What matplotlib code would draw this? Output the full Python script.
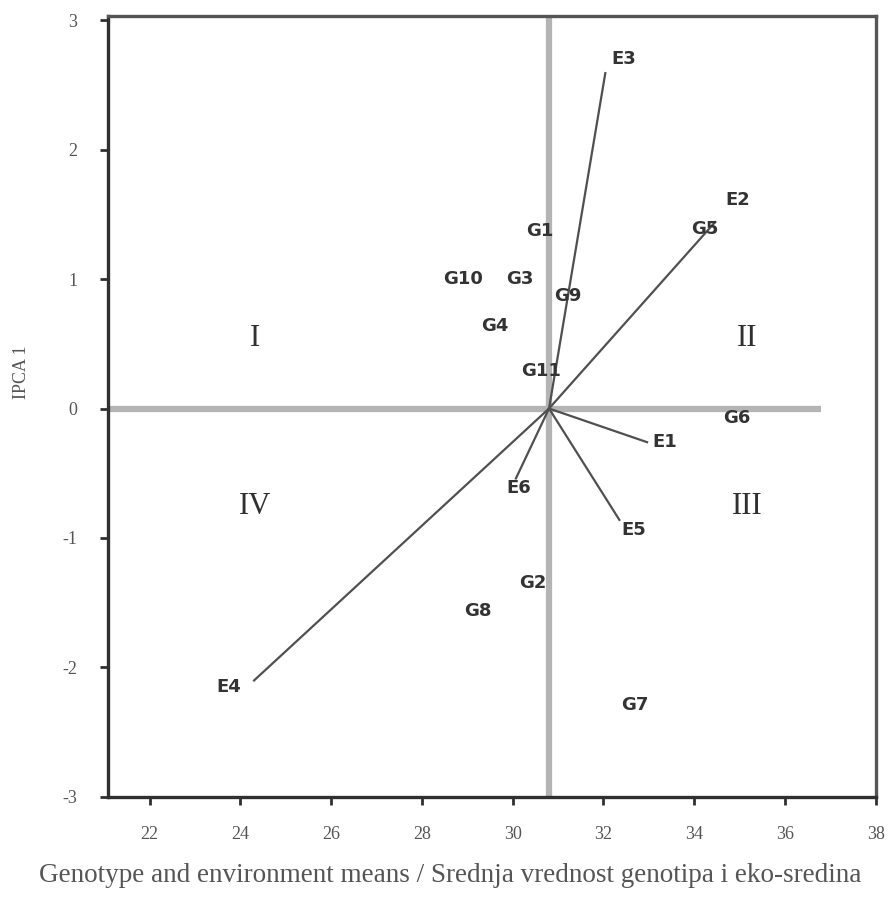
import matplotlib
matplotlib.use("Agg")
import matplotlib.pyplot as plt

# Grand mean (origin of environment vectors)
grand_mean_x = 30.8
grand_mean_y = 0.0

# Environments (vector end points)
env_names = ["E1", "E2", "E3", "E4", "E5", "E6"]
env_x = [32.96, 34.46, 32.04, 24.30, 32.35, 30.07]
env_y = [-0.26, 1.44, 2.59, -2.10, -0.86, -0.54]

# Genotypes
gen_names = ["G1", "G2", "G3", "G4", "G5", "G6", "G7", "G8", "G9", "G10", "G11"]
gen_x = [30.60, 30.44, 30.15, 29.61, 34.24, 34.94, 32.68, 29.24, 31.21, 28.91, 30.62]
gen_y = [1.37, -1.35, 1.00, 0.64, 1.39, -0.07, -2.29, -1.56, 0.87, 1.00, 0.29]

# Quadrant labels
quad_names = ["I", "II", "III", "IV"]
quad_x = [24.32, 35.16, 35.16, 24.32]
quad_y = [0.54, 0.54, -0.76, -0.76]

x_ticks = [22, 24, 26, 28, 30, 32, 34, 36, 38]
y_ticks = [-3, -2, -1, 0, 1, 2, 3]

xlabel = "Genotype and environment means / Srednja vrednost genotipa i eko-sredina"
ylabel = "IPCA 1"

# label offsets (points) for environment labels
env_offsets = {"E1": (13, 0), "E2": (16, 16), "E3": (13, 10), "E4": (-18, -5),
               "E5": (10, -7), "E6": (2, -7)}

fig = plt.figure(figsize=(8.9, 8.97), dpi=100)
ax = fig.add_axes([0.1213, 0.1115, 0.8627, 0.8705])
ax.set_xlim(21.08, 38.0)
ax.set_ylim(-3.0, 3.03)

grey = "#b4b4b4"
ax.axvline(grand_mean_x, color=grey, lw=4.5, zorder=1)
ax.plot([21.08, 36.8], [grand_mean_y, grand_mean_y], color=grey, lw=4.5, zorder=1,
        solid_capstyle="butt")

for name, ex, ey in zip(env_names, env_x, env_y):
    ax.plot([grand_mean_x, ex], [grand_mean_y, ey], color="#505050", lw=1.6, zorder=2)
    dx, dy = env_offsets[name]
    ax.annotate(name, (ex, ey), xytext=(dx, dy), textcoords="offset points",
                ha="center", va="center", fontsize=13, fontweight="bold",
                family="DejaVu Sans", color="#333333", zorder=3)

for name, gx, gy in zip(gen_names, gen_x, gen_y):
    ax.text(gx, gy, name, ha="center", va="center", fontsize=13, fontweight="bold",
            family="DejaVu Sans", color="#333333", zorder=3)

for name, qx, qy in zip(quad_names, quad_x, quad_y):
    ax.text(qx, qy, name, ha="center", va="center", fontsize=22,
            family="Liberation Serif", color="#303030", zorder=3)

ax.set_xticks(x_ticks)
ax.set_yticks(y_ticks)
ax.set_xticklabels([str(t) for t in x_ticks], family="Liberation Serif", fontsize=13,
                   color="#555555")
ax.set_yticklabels([str(t) for t in y_ticks], family="Liberation Serif", fontsize=13,
                   color="#555555")
ax.tick_params(axis="both", direction="out", length=6, width=2, color="#303030",
               top=False, right=False)
ax.tick_params(axis="x", pad=15)
ax.tick_params(axis="y", pad=16)

for side in ["left", "bottom", "top", "right"]:
    ax.spines[side].set_linewidth(2.4)
    ax.spines[side].set_color("#303030")
ax.spines["top"].set_color("#555555")
ax.spines["right"].set_color("#555555")

ax.set_xlabel(xlabel, family="Liberation Serif", fontsize=19.5, color="#555555",
              va="center")
ax.xaxis.set_label_coords((450 - 108) / 767, -(876 - 797) / 781)
ax.set_ylabel(ylabel, family="Liberation Serif", fontsize=13, color="#555555",
              va="center", ha="center")
ax.yaxis.set_label_coords((22 - 108) / 767, (797 - 372) / 781)

fig.savefig("out.png", dpi=100, facecolor="white")
